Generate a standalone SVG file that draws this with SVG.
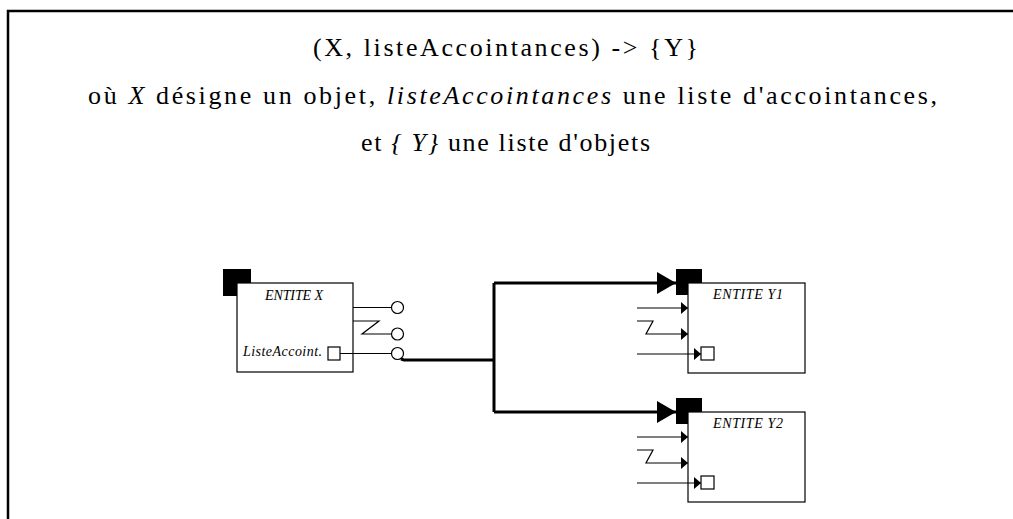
<svg xmlns="http://www.w3.org/2000/svg" width="1013" height="519" viewBox="0 0 1013 519">
<style>
.title{font-family:"Liberation Serif","Times New Roman",serif;font-size:26px;fill:#000}
.lbl{font-family:"Liberation Serif","Times New Roman",serif;font-size:14px;font-style:italic;fill:#000}
.box{fill:#fff;stroke:#000;stroke-width:1.2}
.blk{fill:#000}
.ln{fill:none;stroke:#000;stroke-width:1.2}
.thick{fill:none;stroke:#000;stroke-width:3}
.port{fill:#fff;stroke:#000;stroke-width:1.2}
</style>
<defs>
<marker id="bigArrow" markerUnits="userSpaceOnUse" markerWidth="20" markerHeight="23" refX="19" refY="11" orient="auto">
<path d="M0,0 L19,11 L0,22 z" fill="#000"/>
</marker>
<marker id="smallArrow" markerUnits="userSpaceOnUse" markerWidth="8" markerHeight="13" refX="7" refY="6" orient="auto">
<path d="M0,0 L7,6 L0,12 z" fill="#000"/>
</marker>
</defs>
<rect width="1013" height="519" fill="#fff"/>
<path d="M8,519 L8,11 L1013,11" fill="none" stroke="#000" stroke-width="2.5"/>
<g id="title">
<text class="title" x="313" y="56" textLength="385" lengthAdjust="spacing">(X, listeAccointances) -&gt; {Y}</text>
<text class="title" x="88" y="104" textLength="849" lengthAdjust="spacing">où <tspan font-style="italic">X</tspan> désigne un objet, <tspan font-style="italic">listeAccointances</tspan> une liste d'accointances,</text>
<text class="title" x="361" y="151" textLength="289" lengthAdjust="spacing">et <tspan font-style="italic">{ Y}</tspan> une liste d'objets</text>
</g>
<g id="entiteX">
<rect class="blk" x="223" y="269" width="28" height="27"/>
<rect class="box" x="237" y="283" width="116" height="89"/>
<text class="lbl" x="265" y="300" textLength="58" lengthAdjust="spacing">ENTITE X</text>
<text class="lbl" x="243" y="356" textLength="79" lengthAdjust="spacing">ListeAccoint.</text>
<rect class="port" x="328" y="347" width="12" height="13"/>
<path class="ln" d="M353,307.5 L391.5,307.5"/>
<circle class="port" cx="397.5" cy="307.5" r="6"/>
<path class="ln" d="M353,321 L379,321 L362,334 L391.5,334"/>
<circle class="port" cx="397.5" cy="334" r="6"/>
<path class="ln" d="M340,353.5 L391.5,353.5"/>
<circle class="port" cx="397.5" cy="353.5" r="6"/>
</g>
<g id="entiteY1">
<rect class="blk" x="676" y="269" width="26" height="26"/>
<rect class="box" x="688" y="283" width="117" height="90"/>
<text class="lbl" x="713" y="299" textLength="70" lengthAdjust="spacing">ENTITE Y1</text>
<path class="ln" d="M637,308 L688,308" marker-end="url(#smallArrow)"/>
<path class="ln" d="M637,321 L653,321 L646,334 L688,334" marker-end="url(#smallArrow)"/>
<path class="ln" d="M637,354 L701,354" marker-end="url(#smallArrow)"/>
<rect class="port" x="701" y="347" width="13" height="13"/>
</g>
<g id="entiteY2">
<rect class="blk" x="676" y="398" width="26" height="26"/>
<rect class="box" x="688" y="412" width="117" height="90"/>
<text class="lbl" x="713" y="428" textLength="70" lengthAdjust="spacing">ENTITE Y2</text>
<path class="ln" d="M637,437 L688,437" marker-end="url(#smallArrow)"/>
<path class="ln" d="M637,450 L653,450 L646,463 L688,463" marker-end="url(#smallArrow)"/>
<path class="ln" d="M637,483 L701,483" marker-end="url(#smallArrow)"/>
<rect class="port" x="701" y="476" width="13" height="13"/>
</g>
<g id="connectors">
<path class="thick" d="M401,359 L404,360 L494,360"/>
<path class="thick" d="M494,283 L494,412"/>
<path class="thick" d="M494,283 L676,283" marker-end="url(#bigArrow)"/>
<path class="thick" d="M494,412 L676,412" marker-end="url(#bigArrow)"/>
</g>
</svg>
